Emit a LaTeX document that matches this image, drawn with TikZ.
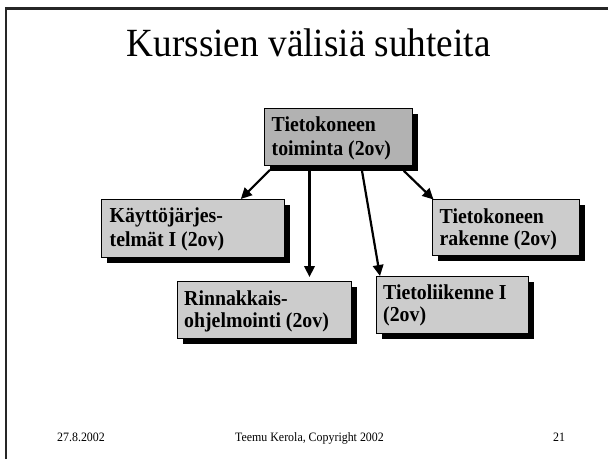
\documentclass[tikz,border=0pt]{standalone}
\usepackage{fontspec}
\setmainfont{Liberation Serif}
\newfontfamily\slidefont{Liberation Serif}[FakeStretch=0.93]
\usetikzlibrary{shadows,arrows.meta}
\begin{document}
\begin{tikzpicture}[x=1pt,y=-1pt,
  coursebox/.style={draw=black, line width=0.8pt, fill=boxgray, anchor=north west,
    inner sep=0pt,
    general shadow={fill=black, shadow xshift=6pt, shadow yshift=-6pt}},
  topbox/.style={coursebox, fill=topgray},
  boxtext/.style={anchor=base west, inner sep=0pt,
    font=\slidefont\fontsize{21.3}{23}\selectfont\bfseries},
  link/.style={line width=2.2pt, -{Triangle[length=11pt,width=10.5pt]}},
  foot/.style={font=\slidefont\fontsize{12.8}{14}\selectfont, anchor=base}]
\definecolor{boxgray}{RGB}{204,204,204}
\definecolor{topgray}{RGB}{178,178,178}
\useasboundingbox (0,0) rectangle (608,459);
\fill[white] (0,0) rectangle (608,459);
% slide frame
\draw[line width=2.2pt, black!85] (6,459) -- (6,8.5) -- (608,8.5);
% title
\node[font=\slidefont\fontsize{40}{44}\selectfont, anchor=base] (title) at (308.7,56) {Kurssien välisiä suhteita};
% boxes
\node[topbox, minimum width=148pt, minimum height=57pt] (A) at (264,108) {};
\node[coursebox, minimum width=183pt, minimum height=58pt] (B) at (101,199) {};
\node[coursebox, minimum width=174pt, minimum height=57pt] (C) at (177,281) {};
\node[coursebox, minimum width=152pt, minimum height=57pt] (D) at (376,276) {};
\node[coursebox, minimum width=147pt, minimum height=56pt] (E) at (432,199) {};
% box texts
\node[boxtext] (A1) at ([shift={(7.5,23.7)}]A.north west) {Tietokoneen};
\node[boxtext] (A2) at ([shift={(7.5,47)}]A.north west) {toiminta (2ov)};
\node[boxtext] (B1) at ([shift={(8.5,23)}]B.north west) {Käyttöjärjes-};
\node[boxtext] (B2) at ([shift={(8.5,47)}]B.north west) {telmät I (2ov)};
\node[boxtext] (C1) at ([shift={(7,24)}]C.north west) {Rinnakkais-};
\node[boxtext] (C2) at ([shift={(7,46.5)}]C.north west) {ohjelmointi (2ov)};
\node[boxtext] (D1) at ([shift={(7,23)}]D.north west) {Tietoliikenne I};
\node[boxtext] (D2) at ([shift={(7,45.5)}]D.north west) {(2ov)};
\node[boxtext] (E1) at ([shift={(7.5,24)}]E.north west) {Tietokoneen};
\node[boxtext] (E2) at ([shift={(7.5,46.5)}]E.north west) {rakenne (2ov)};
% connectors
\draw[link] ([shift={(6,4)}]A.south west) -- ([shift={(-44,0)}]B.north east);
\draw[link] ([shift={(45.5,5)}]A.south west) -- ([shift={(45.5,-4)}]A.south west |- C.north);
\draw[link] ([shift={(98,5)}]A.south west) -- ([shift={(4,0)}]D.north west);
\draw[link] ([shift={(-9,5)}]A.south east) -- ([shift={(1.5,0.5)}]E.north west);
% footer
\node[foot] (date) at (81,441) {27.8.2002};
\node[foot] (author) at (309.5,441) {Teemu Kerola, Copyright 2002};
\node[foot] (page) at (559,441) {21};
\end{tikzpicture}
\end{document}
